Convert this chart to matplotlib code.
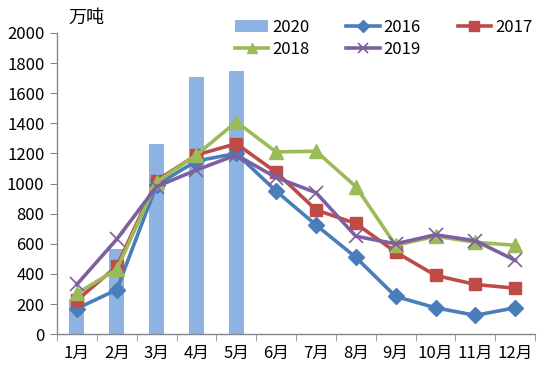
import matplotlib
matplotlib.use("Agg")
import matplotlib.pyplot as plt
import numpy as np

plt.rcParams['font.family'] = ['Noto Sans CJK SC', 'DejaVu Sans']

months = ["1月", "2月", "3月", "4月", "5月", "6月", "7月", "8月", "9月", "10月", "11月", "12月"]
v2020 = [230, 565, 1260, 1710, 1750]
v2016 = [170, 295, 990, 1150, 1200, 950, 725, 510, 250, 175, 125, 175]
v2017 = [225, 450, 1020, 1190, 1265, 1075, 825, 735, 545, 390, 330, 305]
v2018 = [270, 430, 1010, 1190, 1410, 1210, 1215, 980, 590, 650, 610, 590]
v2019 = [330, 630, 980, 1090, 1190, 1040, 940, 650, 600, 660, 620, 490]
yticks = list(range(0, 2001, 200))

fig = plt.figure(figsize=(5.5, 3.75), dpi=100)
ax = fig.add_axes([0.1036, 0.109, 0.8694, 0.803])

x = np.arange(len(months))
bars = ax.bar(x[:len(v2020)], v2020, width=0.38, color="#8DB3E2", label="2020", zorder=1)
l16, = ax.plot(x, v2016, color="#4A7EBB", marker="D", markersize=8, lw=2.6, label="2016", zorder=2)
l17, = ax.plot(x, v2017, color="#BE4B48", marker="s", markersize=9, lw=2.6, label="2017", zorder=3)
l18, = ax.plot(x, v2018, color="#9BBB59", marker="^", markersize=10, lw=2.6, label="2018", zorder=4)
l19, = ax.plot(x, v2019, color="#7D60A0", marker="x", markersize=10, mew=1.2, lw=2.6, label="2019", zorder=5)

ax.set_xlim(-0.5, len(months) - 0.5)
ax.set_ylim(0, 2000)
ax.set_yticks(yticks)
ax.set_yticklabels([str(t) for t in yticks], fontsize=12)
ax.set_xticks(x)
ax.set_xticklabels(months, fontsize=12)
ax.set_xticks(np.arange(-0.5, len(months), 1.0), minor=True)
ax.tick_params(axis='x', which='major', length=0, pad=8)
ax.tick_params(axis='x', which='minor', length=5, color="#888888", direction='out')
ax.tick_params(axis='y', length=5, color="#888888", direction='out', pad=4)
for s in ["top", "right"]:
    ax.spines[s].set_visible(False)
for s in ["left", "bottom"]:
    ax.spines[s].set_color("#888888")
    ax.spines[s].set_linewidth(1)

fig.text(0.124, 0.952, "万吨", fontsize=13, ha="left", va="center")

handles = [bars, l18, l16, l19, l17]
labels = ["2020", "2018", "2016", "2019", "2017"]
ax.legend(handles, labels, ncol=3, loc="upper left", bbox_to_anchor=(0.372, 1.048),
          frameon=False, fontsize=12, handlelength=2.0, columnspacing=2.2,
          labelspacing=0.3, handletextpad=0.25, borderaxespad=0, borderpad=0,
          markerscale=0.75)

fig.savefig("out.png", dpi=100)
